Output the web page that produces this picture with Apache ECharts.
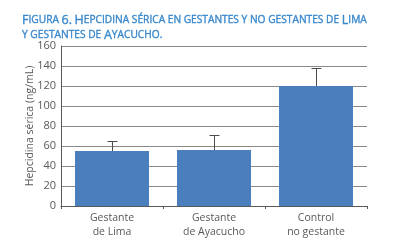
<!DOCTYPE html>
<html><head><meta charset="utf-8">
<script src="https://cdn.jsdelivr.net/npm/echarts@6/dist/echarts.min.js"></script>
<style>html,body{margin:0;padding:0;background:#fff}#c{width:406px;height:249px}</style>
</head><body><div id="c"></div>
<script>
const categories = ['Gestante\nde Lima', 'Gestante\nde Ayacucho', 'Control\nno gestante'];
const values = [55, 56, 120];
const errorTop = [65, 71, 138];
const yTicks = [0, 20, 40, 60, 80, 100, 120, 140, 160];
const titleLines = ['Figura 6. Hepcidina sérica en gestantes y no gestantes de Lima', 'y gestantes de Ayacucho.'];

function smallCaps(line) {
  let out = '';
  for (const w of line.split(' ')) {
    if (out) out += '{s| }';
    const first = w[0];
    const isCap = (first === first.toUpperCase() && first !== first.toLowerCase()) || /[0-9]/.test(first);
    if (isCap) {
      out += '{b|' + first + '}';
      let buf = '';
      for (const ch of w.slice(1)) {
        if (/[0-9.]/.test(ch) && /[0-9]/.test(first)) out += '{b|' + ch + '}';
        else buf += ch;
      }
      if (buf) out += '{s|' + buf.toUpperCase() + '}';
    } else {
      out += '{s|' + w.toUpperCase() + '}';
    }
  }
  return out;
}

const chart = echarts.init(document.getElementById('c'), null, {renderer: 'canvas'});
const titleColor = '#3a88cc';
const tBase = {fontFamily: 'Open Sans', fontWeight: 'normal', color: titleColor, lineHeight: 15,
  textBorderColor: titleColor, textBorderWidth: 0.35};
chart.setOption({
  animation: false,
  title: {
    text: titleLines.map(smallCaps).join('\n'),
    left: 17, top: 8,
    textStyle: {
      fontWeight: 'normal',
      rich: {
        b: Object.assign({fontSize: 12.5}, tBase),
        s: Object.assign({fontSize: 10.2}, tBase)
      }
    }
  },
  grid: {left: 61, right: 39, top: 46, bottom: 43, containLabel: false},
  xAxis: {
    type: 'category', data: categories,
    axisLine: {lineStyle: {color: '#595959', width: 1}},
    axisTick: {show: true, alignWithLabel: false, length: 3, lineStyle: {color: '#595959'}},
    axisLabel: {color: '#595959', fontFamily: 'Open Sans', fontSize: 10.5, lineHeight: 14, margin: 5}
  },
  yAxis: {
    type: 'value', min: 0, max: 160, interval: 20,
    name: 'Hepcidina sérica (ng/mL)', nameLocation: 'middle', nameGap: 25, nameRotate: 90,
    nameMoveOverlap: false,
    nameTextStyle: {color: '#595959', fontFamily: 'Open Sans', fontSize: 10.5},
    axisLine: {show: true, lineStyle: {color: '#595959'}},
    axisTick: {show: false},
    axisLabel: {color: '#595959', fontFamily: 'Open Sans', fontSize: 11, margin: 5,
      formatter: v => yTicks.includes(v) ? String(v) : ''},
    splitLine: {lineStyle: {color: '#8a8a8a', width: 1}}
  },
  series: [
    {type: 'bar', data: values, barWidth: 74, itemStyle: {color: '#4a7ebd'}, z: 2},
    {
      type: 'custom', z: 3,
      data: values.map((v, i) => [i, v, errorTop[i]]),
      renderItem: function (params, api) {
        const base = api.coord([api.value(0), api.value(1)]);
        const top = api.coord([api.value(0), api.value(2)]);
        const x = Math.round(base[0]) + 0.5;
        return {
          type: 'group',
          children: [
            {type: 'line', shape: {x1: x, y1: base[1], x2: x, y2: top[1]}, style: {stroke: '#4d4d4d', lineWidth: 1}},
            {type: 'line', shape: {x1: x - 5, y1: Math.round(top[1]) + 0.5, x2: x + 5, y2: Math.round(top[1]) + 0.5}, style: {stroke: '#4d4d4d', lineWidth: 1}}
          ]
        };
      }
    }
  ]
});
</script></body></html>
